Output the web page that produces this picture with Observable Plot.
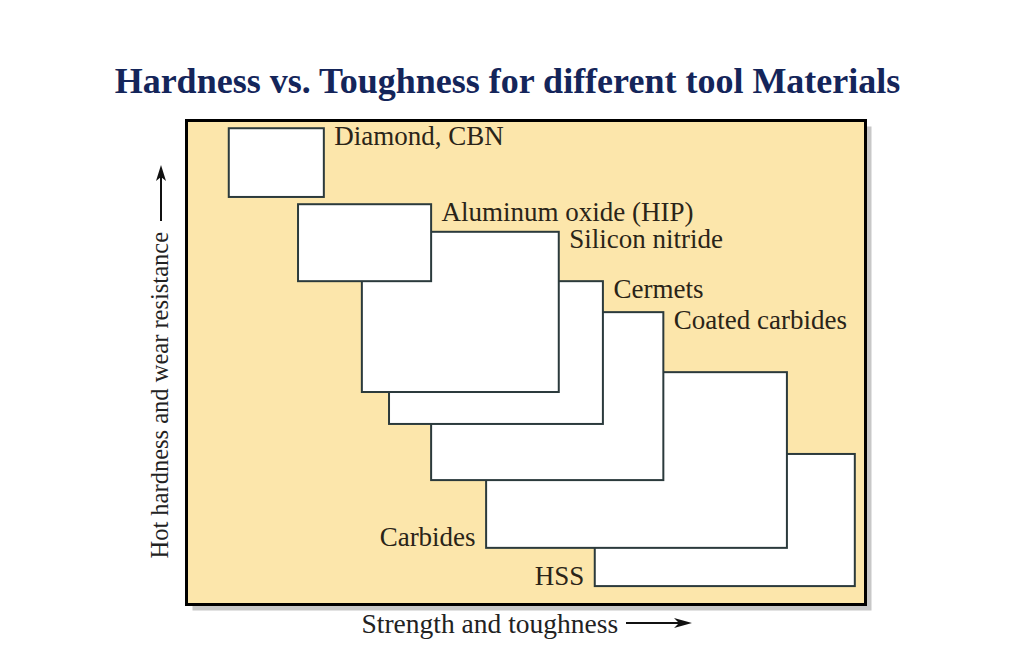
<!DOCTYPE html>
<html>
<head>
<meta charset="utf-8">
<script src="https://cdn.jsdelivr.net/npm/d3@7"></script>
<script src="https://cdn.jsdelivr.net/npm/@observablehq/plot@0.6"></script>
<style>
  html, body { margin: 0; padding: 0; background: #fff; }
  #wrap { position: relative; width: 1015px; height: 648px; overflow: hidden; }
  #title { position: absolute; left: 0; top: 63px; width: 1015px; text-align: center;
           font-family: "Liberation Serif", "Times New Roman", serif; font-weight: bold;
           font-size: 36px; line-height: 36px; color: #14255a; margin: 0; z-index: 2; }
  #chart { position: absolute; left: 0; top: 0; }
</style>
</head>
<body>
<div id="wrap">
  <h1 id="title">Hardness vs. Toughness for different tool Materials</h1>
  <div id="chart"></div>
</div>
<script>
// Tool materials (relative units 0–100 on both axes)
const materials = ["Diamond, CBN", "Aluminum oxide (HIP)", "Silicon nitride", "Cermets", "Coated carbides", "Carbides", "HSS"];
const toughnessLow  = [6.3, 16.5, 25.9, 29.9, 36.1, 44.2, 60.2];
const toughnessHigh = [20.3, 36.1, 54.9, 61.4, 70.3, 88.5, 98.5];
const hardnessLow   = [84.1, 66.7, 43.8, 37.2, 25.6, 11.6, 3.7];
const hardnessHigh  = [98.3, 82.6, 76.9, 66.7, 60.3, 47.9, 31.0];
const labelSide     = ["right", "right", "right", "right", "right", "left", "left"];
const xTitle = "Strength and toughness";
const yTitle = "Hot hardness and wear resistance";

(function () {
const rows = materials.map((m, i) => ({
  name: m, x1: toughnessLow[i], x2: toughnessHigh[i], y1: hardnessLow[i], y2: hardnessHigh[i], side: labelSide[i]
}));
// draw the toughest first so harder materials overlap them
const drawOrder = rows.slice().reverse();

const serif = "Liberation Serif, Times New Roman, serif";
const inkText = "#2a2418";

const chart = Plot.plot({
  width: 1015,
  height: 648,
  marginLeft: 186,
  marginRight: 150,
  marginTop: 120,
  marginBottom: 44,
  x: {domain: [0, 100], axis: null},
  y: {domain: [0, 100], axis: null},
  style: {fontFamily: serif, background: "transparent"},
  marks: [
    Plot.frame({fill: "#c8c8c8", dx: 6, dy: 6}),
    Plot.frame({fill: "#fce6ab"}),
    Plot.rect(drawOrder, {x1: "x1", x2: "x2", y1: "y1", y2: "y2", fill: "#ffffff", stroke: "#2b3a3c", strokeWidth: 2}),
    Plot.text(rows.filter(d => d.side === "right"), {
      x: "x2", y: "y2", text: "name", textAnchor: "start", lineAnchor: "bottom",
      dx: 10, dy: 16, fontSize: 27, fill: inkText
    }),
    Plot.text(rows.filter(d => d.side === "left"), {
      x: "x1", y: "y1", text: "name", textAnchor: "end", lineAnchor: "bottom",
      dx: -11, dy: -2, fontSize: 27, fill: inkText
    }),
    Plot.frame({stroke: "#000", strokeWidth: 3}),
    Plot.text([xTitle], {frameAnchor: "bottom-left", dx: 175, dy: 28, textAnchor: "start", lineAnchor: "bottom", fontSize: 27.5, fill: "#222"}),
    Plot.text([yTitle], {frameAnchor: "bottom-left", dx: -26, dy: -46, rotate: -90, textAnchor: "start", lineAnchor: "middle", fontSize: 24.5, fill: "#222"})
  ]
});
document.getElementById("chart").appendChild(chart);

// axis arrows, positioned relative to the plot frame
const xr = chart.scale("x").range;   // [left, right]
const yr = chart.scale("y").range;   // [bottom, top]
const fLeft = Math.min(...xr), fBottom = Math.max(...yr), fTop = Math.min(...yr);
const svg = d3.select(chart);
const g = svg.append("g").attr("fill", "#111").attr("stroke", "#111");
// vertical arrow (hardness)
const vx = fLeft - 25, vy0 = fTop + 101, vy1 = fTop + 45;
g.append("line").attr("x1", vx).attr("x2", vx).attr("y1", vy0).attr("y2", vy1 + 10).attr("stroke-width", 2);
g.append("path").attr("stroke", "none").attr("d", `M${vx},${vy1} L${vx - 5},${vy1 + 16} L${vx},${vy1 + 12} L${vx + 5},${vy1 + 16} Z`);
// horizontal arrow (toughness)
const hy = fBottom + 19, hx0 = fLeft + 440, hx1 = fLeft + 506;
g.append("line").attr("x1", hx0).attr("x2", hx1 - 10).attr("y1", hy).attr("y2", hy).attr("stroke-width", 2);
g.append("path").attr("stroke", "none").attr("d", `M${hx1},${hy} L${hx1 - 18},${hy - 5} L${hx1 - 13},${hy} L${hx1 - 18},${hy + 5} Z`);
})();
</script>
</body>
</html>
